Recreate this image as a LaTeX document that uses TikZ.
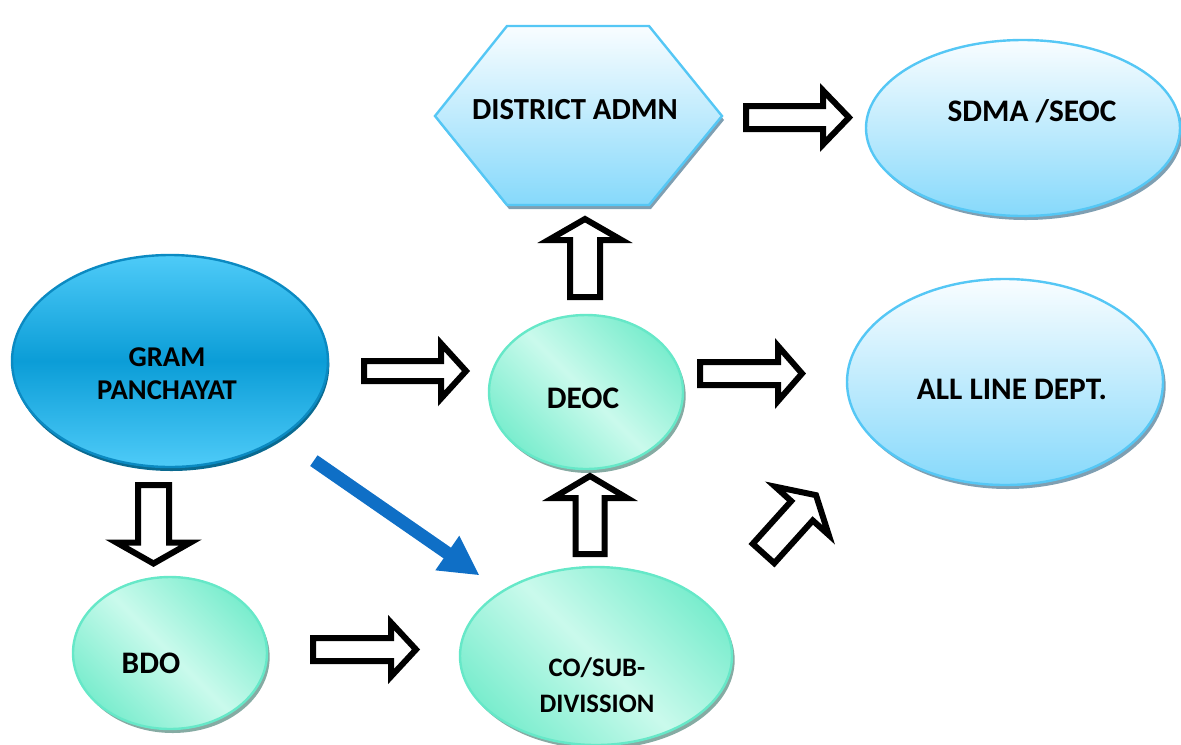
\documentclass[tikz,border=0pt]{standalone}
\usepackage{fontspec}
\setmainfont{Carlito}
\usetikzlibrary{shapes.geometric,shadows,arrows.meta}
\definecolor{gpdark}{HTML}{0B9DD7}
\definecolor{gplight}{HTML}{4ECBF8}
\definecolor{gpborder}{HTML}{0B8AC2}
\definecolor{gpshadow}{HTML}{0A6A90}
\definecolor{tealdark}{HTML}{7BEDCE}
\definecolor{teallight}{HTML}{CAFAEC}
\definecolor{tealborder}{HTML}{66E8C8}
\definecolor{tealshadow}{HTML}{86ABA3}
\definecolor{bluetop}{HTML}{F9FDFF}
\definecolor{bluebottom}{HTML}{86D9FB}
\definecolor{blueborder}{HTML}{55C7F5}
\definecolor{blueshadow}{HTML}{7F9FB2}
\definecolor{arrowblue}{HTML}{0F6FC6}
\newcommand\blockarr[7]{%
  \draw[barrow, shift={(#1,#2)}, rotate=#3]
    (0,-#5) -- ({#4-#7},-#5) -- ({#4-#7},-#6) -- (#4,0) --
    ({#4-#7},#6) -- ({#4-#7},#5) -- (0,#5) -- cycle;}
\begin{document}
\begin{tikzpicture}[x=0.75pt,y=-0.75pt,
  ell/.style={ellipse, inner sep=0pt, line width=1.8pt},
  gpell/.style={ell, draw=gpborder, top color=gplight, bottom color=gplight, middle color=gpdark,
    drop shadow={shadow xshift=1pt, shadow yshift=-3pt, fill=gpshadow, opacity=1}},
  tealell/.style={ell, draw=tealborder, top color=tealdark, bottom color=tealdark, middle color=teallight,
    shading angle=-45,
    drop shadow={shadow xshift=2pt, shadow yshift=-3pt, fill=tealshadow, opacity=1}},
  blueell/.style={ell, draw=blueborder, top color=bluetop, bottom color=bluebottom,
    drop shadow={shadow xshift=2pt, shadow yshift=-3pt, fill=blueshadow, opacity=1}},
  lbl/.style={font=\bfseries\fontsize{23.5}{28}\selectfont, inner sep=0pt, align=center},
  barrow/.style={draw=black, fill=white, line width=4.5pt, miter limit=10},
  bluearrow/.style={draw=arrowblue, line width=9.75pt,
    -{Triangle[length=29.5pt,width=29.25pt]}}
]
\useasboundingbox (0,0) rectangle (1181,744);

% hexagon
\fill[blueshadow, shift={(2,4)}] (435,116) -- (507,26) -- (649,26) -- (722,116) -- (649,205) -- (507,205) -- cycle;
\path[draw=blueborder, line width=1.8pt, top color=bluetop, bottom color=bluebottom]
  (435,116) -- (507,26) -- (649,26) -- (722,116) -- (649,205) -- (507,205) -- cycle;
\node[lbl, font=\bfseries\fontsize{23}{28}\selectfont] (da) at (575,110) {DISTRICT ADMN};

% ellipses
\node[gpell, minimum width=316*0.75pt, minimum height=212*0.75pt] (gp) at (170,361) {};
\node[blueell, minimum width=314*0.75pt, minimum height=176*0.75pt] (sdma) at (1023,128) {};
\node[blueell, minimum width=316*0.75pt, minimum height=206*0.75pt] (all) at (1005,382) {};
\node[tealell, minimum width=194*0.75pt, minimum height=154*0.75pt] (deoc) at (586,392) {};
\node[tealell, minimum width=194*0.75pt, minimum height=152*0.75pt] (bdo) at (170,653) {};
\node[tealell, minimum width=272*0.75pt, minimum height=178*0.75pt] (co) at (596,656) {};

% labels
\node[lbl, font=\bfseries\fontsize{21.5}{24.75}\selectfont] (gptxt) at (167,373.5) {GRAM\\PANCHAYAT};
\node[lbl] (sdmatxt) at (1032,111) {SDMA /SEOC};
\node[lbl] (alltxt) at (1012,389) {ALL LINE DEPT.};
\node[lbl] (deoctxt) at (583,398) {DEOC};
\node[lbl] (bdotxt) at (151,663) {BDO};
\node[lbl, font=\bfseries\fontsize{20}{27}\selectfont] (cotxt) at (597,685) {CO/SUB-\\DIVISSION};

% block arrows
\blockarr{364}{371}{0}{102}{10}{27.5}{25}
\blockarr{746}{117.5}{0}{103}{11.5}{27}{26}
\blockarr{585}{297}{90}{78}{15}{36.5}{21}
\blockarr{700}{373.5}{0}{102}{11.5}{27.5}{24}
\blockarr{590}{554}{90}{78}{14.5}{37}{22}
\blockarr{763.5}{553.5}{48}{78.5}{14.5}{36}{21}
\blockarr{153.5}{485}{-90}{78.5}{15.5}{37}{21}
\blockarr{313}{649.5}{0}{103}{11.5}{27}{25}

% blue arrow
\draw[bluearrow, shorten <=30pt, shorten >=20pt] (gp) -- (co);
\end{tikzpicture}
\end{document}
